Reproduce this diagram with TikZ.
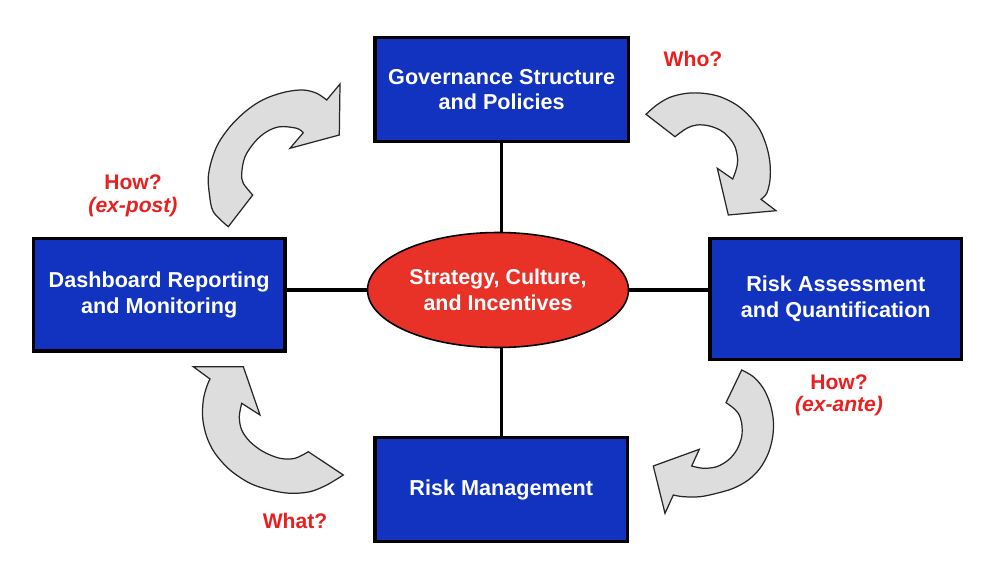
\documentclass[tikz,border=0pt]{standalone}
\usepackage{fontspec}
\setmainfont{Liberation Sans}
\usetikzlibrary{shapes.geometric}
\definecolor{boxblue}{RGB}{17,51,192}
\definecolor{ellred}{RGB}{232,50,40}
\definecolor{lblred}{RGB}{232,32,32}
\definecolor{arrgray}{RGB}{221,221,221}
\tikzset{
  box/.style={draw=black, line width=1.9pt, fill=boxblue, text=white,
    font=\fontsize{12.3}{14.6}\selectfont\bfseries, align=center, inner sep=0pt},
  hub/.style={ellipse, draw=black, line width=0.9pt, fill=ellred, text=white,
    font=\fontsize{12.2}{14.6}\selectfont\bfseries, align=center, inner sep=0pt,
    minimum width=5.22cm, minimum height=2.3cm},
  conn/.style={draw=black, line width=1.8pt},
  lbl/.style={text=lblred, font=\fontsize{12}{12.8}\selectfont\bfseries, align=center, inner sep=0pt},
  cyc/.style={draw=black!85, line width=0.7pt, fill=arrgray, line join=miter},
  sm/.style={smooth, tension=0.55}
}
\begin{document}
\begin{tikzpicture}[x=0.02cm, y=-0.02cm]
\useasboundingbox[fill=white] (0,0) rectangle (1000,577);

% nodes
\node[hub] (ell) at (498,290) {Strategy, Culture,\\and Incentives};
\node[box, minimum width=5.07cm, minimum height=2.08cm] (gov) at (501.7,89.7) {Governance Structure\\and Policies};
\node[box, minimum width=5.03cm, minimum height=2.25cm] (dash) at (159.2,294.7) {Dashboard Reporting\\and Monitoring};
\node[box, minimum width=5.03cm, minimum height=2.42cm] (ra) at (835.8,298.9) {Risk Assessment\\and Quantification};
\node[box, minimum width=5.06cm, minimum height=2.08cm] (rm) at (501.3,489.7) {Risk Management};

% connectors
\draw[conn] (gov.south) -- (gov.south |- ell.north);
\draw[conn] (rm.north) -- (rm.north |- ell.south);
\draw[conn] (ell.west) -- (ell.west -| dash.east);
\draw[conn] (ell.east) -- (ell.east -| ra.west);

% labels
\node[lbl, anchor=base] (who) at (693,66.7) {Who?};
\node[lbl] (howpost) at (133,196) {How?\\\itshape(ex-post)};
\node[lbl] (howante) at (839,395.3) {How?\\\itshape(ex-ante)};
\node[lbl, anchor=base] (what) at (295,528) {What?};

% curved arrows
% top-left
\draw[cyc] (228.3,226.7) -- plot[sm] coordinates {(228.3,226.7) (213.3,211.7) (209.3,193.3) (208.3,176.7) (211.7,160) (218.3,143.3) (230,126.7) (243.3,113.3) (256.7,103.3) (270,96.7) (286.7,91.7) (303.3,90) (316.7,93.3) (326.7,100)}
  -- (340,84) -- (339.3,135) -- (290,148.3) -- (303.3,132.7)
  -- plot[sm] coordinates {(303.3,132.7) (296.7,128.3) (280,126.7) (266.7,131.7) (255,141.7) (245,156.7) (241.7,173.3) (243.3,183.3) (252.7,195)} -- cycle;
% top-right
\draw[cyc] (646,114.3) -- plot[sm] coordinates {(646,114.3) (656.7,105) (670,97.3) (686.7,93.3) (703.3,93.3) (720,96.7) (736.7,105) (750,116.7) (760,130) (766.7,146.7) (770,163.3) (770,180) (766.7,193.3) (761,199.3)}
  -- (776,210.7) -- (728.3,215) -- (717.3,168.3) -- (732.7,179)
  -- plot[sm] coordinates {(732.7,179) (736,170) (737.7,160) (735,146.7) (728.3,136.7) (720,130) (708.3,125.7) (696.7,125) (686.7,128.3) (675,136.7)} -- cycle;
% bottom-right
\draw[cyc] (741.7,370) -- plot[sm] coordinates {(741.7,370) (753.3,376.7) (763.3,388.3) (770,403.3) (773.3,420) (772.7,436.7) (768.3,453.3) (760,468.3) (748.3,480) (733.3,488.3) (716.7,493.3) (700,496.7) (683.3,496.7) (673.3,495)}
  -- (665,513.3) -- (653.3,466) -- (699.3,449.3) -- (691.7,466)
  -- plot[sm] coordinates {(691.7,466) (703.3,468.3) (716.7,466.7) (728.3,460) (736.7,450) (741.7,436.7) (741.7,423.3) (738.3,413.3) (731.7,406.7) (726,402.7)} -- cycle;
% bottom-left
\draw[cyc] (343.3,475) -- plot[sm] coordinates {(343.3,475) (326.7,485) (310,491.7) (290,493.3) (270,490) (250,483.3) (230,470) (215,453.3) (206.7,436.7) (202.7,418.3) (203.3,400) (206.7,386.7) (210,379)}
  -- (193.3,366.7) -- (243.3,366.7) -- (260,415) -- (241.7,403.3)
  -- plot[sm] coordinates {(241.7,403.3) (239.3,416.7) (241.7,430) (250,441.7) (263.3,451.7) (280,458.3) (295,458.3) (308.3,451.7)} -- cycle;
\end{tikzpicture}
\end{document}
